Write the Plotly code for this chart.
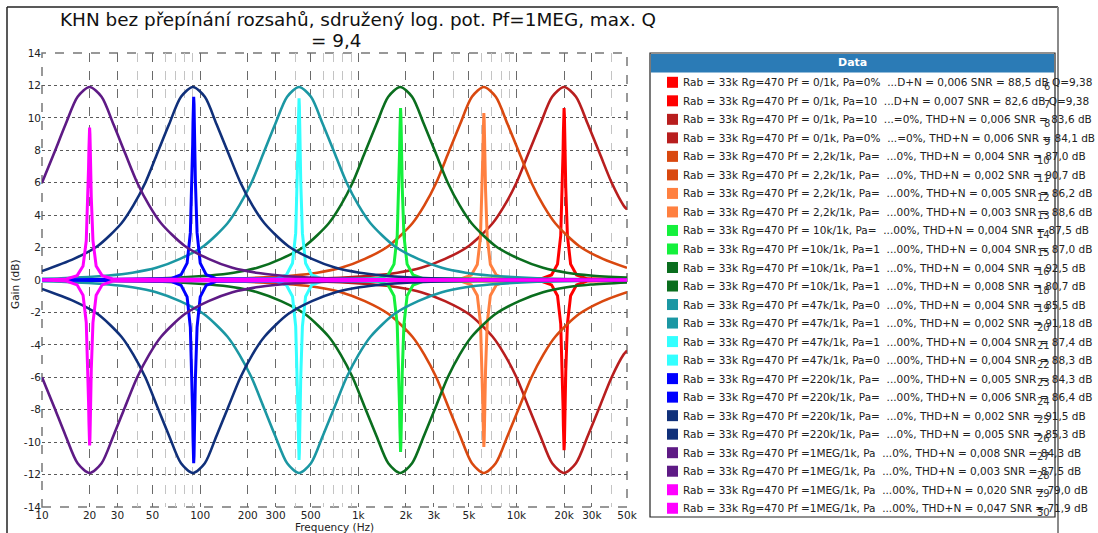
import plotly.graph_objects as go

# ---------------------------------------------------------------------------
# Measured responses: frequency (Hz) and gain (dB)
# ---------------------------------------------------------------------------

# Wide-band (low Q) curves
F_FIREBRICK = [10, 313, 625, 1250, 1768, 2500, 3536, 5000, 7071, 8409, 10000, 11892, 14142,
               16818, 20000, 23784, 28284, 33636, 40000, 47568, 50000]
G_FIREBRICK_UP = [0.0, 0.05, 0.11, 0.28, 0.45, 0.75, 1.3, 2.1, 3.5, 4.6, 6.0, 7.8, 9.6,
                  11.3, 11.9, 11.3, 9.6, 7.8, 6.0, 4.6, 4.35]
G_FIREBRICK_DN = [0.0, -0.05, -0.11, -0.28, -0.45, -0.75, -1.3, -2.1, -3.5, -4.6, -6.0, -7.8, -9.6,
                  -11.3, -11.9, -11.3, -9.6, -7.8, -6.0, -4.6, -4.35]

F_ORANGERED = [10, 97, 194, 389, 550, 778, 1100, 1555, 2199, 2615, 3110, 3698, 4398, 5230,
               6220, 7397, 8796, 10461, 12440, 14793, 17593, 24880, 35186, 50000]
G_ORANGERED_UP = [0.0, 0.05, 0.11, 0.28, 0.45, 0.75, 1.3, 2.1, 3.5, 4.6, 6.0, 7.8, 9.6, 11.3,
                  11.9, 11.3, 9.6, 7.8, 6.0, 4.6, 3.5, 2.1, 1.3, 0.75]
G_ORANGERED_DN = [0.0, -0.05, -0.11, -0.28, -0.45, -0.75, -1.3, -2.1, -3.5, -4.6, -6.0, -7.8, -9.6, -11.3,
                  -11.9, -11.3, -9.6, -7.8, -6.0, -4.6, -3.5, -2.1, -1.3, -0.75]

F_DKGREEN = [10, 57.5, 115, 163, 230, 325, 460, 651, 774, 920, 1094, 1301, 1547, 1840,
             2188, 2602, 3095, 3680, 4376, 5204, 7360, 10409, 14720, 20817, 29440, 50000]
G_DKGREEN_UP = [0.01, 0.11, 0.28, 0.45, 0.75, 1.3, 2.1, 3.5, 4.6, 6.0, 7.8, 9.6, 11.3, 11.9,
                11.3, 9.6, 7.8, 6.0, 4.6, 3.5, 2.1, 1.3, 0.75, 0.45, 0.28, 0.15]
G_DKGREEN_DN = [-0.01, -0.11, -0.28, -0.45, -0.75, -1.3, -2.1, -3.5, -4.6, -6.0, -7.8, -9.6, -11.3, -11.9,
                -11.3, -9.6, -7.8, -6.0, -4.6, -3.5, -2.1, -1.3, -0.75, -0.45, -0.28, -0.15]

F_TEAL = [10, 13.2, 26.4, 37.3, 52.8, 74.6, 105.5, 149, 177, 211, 251, 298, 355, 422,
          502, 597, 710, 844, 1004, 1194, 1688, 2387, 3376, 4774, 6752, 13504, 27008, 50000]
G_TEAL_UP = [0.08, 0.11, 0.28, 0.45, 0.75, 1.3, 2.1, 3.5, 4.6, 6.0, 7.8, 9.6, 11.3, 11.9,
             11.3, 9.6, 7.8, 6.0, 4.6, 3.5, 2.1, 1.3, 0.75, 0.45, 0.28, 0.11, 0.05, 0.03]
G_TEAL_DN = [-0.08, -0.11, -0.28, -0.45, -0.75, -1.3, -2.1, -3.5, -4.6, -6.0, -7.8, -9.6, -11.3, -11.9,
             -11.3, -9.6, -7.8, -6.0, -4.6, -3.5, -2.1, -1.3, -0.75, -0.45, -0.28, -0.11, -0.05, -0.03]

F_NAVY = [10, 15.9, 22.5, 31.8, 37.8, 45, 53.5, 63.6, 75.7, 90, 107, 127, 151, 180, 214, 255,
          360, 509, 720, 1018, 1440, 2036, 2880, 5760, 11520, 50000]
G_NAVY_UP = [0.55, 1.3, 2.1, 3.5, 4.6, 6.0, 7.8, 9.6, 11.3, 11.9, 11.3, 9.6, 7.8, 6.0, 4.6, 3.5,
             2.1, 1.3, 0.75, 0.45, 0.28, 0.17, 0.11, 0.05, 0.02, 0.0]
G_NAVY_DN = [-0.55, -1.3, -2.1, -3.5, -4.6, -6.0, -7.8, -9.6, -11.3, -11.9, -11.3, -9.6, -7.8, -6.0, -4.6, -3.5,
             -2.1, -1.3, -0.75, -0.45, -0.28, -0.17, -0.11, -0.05, -0.02, 0.0]

F_PURPLE = [10, 11.9, 14.1, 16.8, 20, 23.8, 28.3, 33.6, 40, 47.6, 56.6, 80, 113, 160, 226,
            320, 453, 640, 1280, 5000, 50000]
G_PURPLE_UP = [6.0, 7.8, 9.6, 11.3, 11.9, 11.3, 9.6, 7.8, 6.0, 4.6, 3.5, 2.1, 1.3, 0.75, 0.45,
               0.28, 0.17, 0.11, 0.05, 0.01, 0.0]
G_PURPLE_DN = [-6.0, -7.8, -9.6, -11.3, -11.9, -11.3, -9.6, -7.8, -6.0, -4.6, -3.5, -2.1, -1.3, -0.75, -0.45,
               -0.28, -0.17, -0.11, -0.05, -0.01, 0.0]

# Narrow (high Q) curves
F_RED = [10, 14286, 16667, 18182, 19048, 19512, 19704, 19802, 19900, 20000, 20100, 20200,
         20300, 20500, 21000, 22000, 24000, 28000, 50000]
G_RED_UP = [0.0, 0.07, 0.31, 0.98, 2.74, 5.71, 7.87, 9.10, 10.16, 10.6, 10.16, 9.10,
            7.87, 5.71, 2.74, 0.98, 0.31, 0.07, 0.03]
G_RED_DN = [0.0, -0.06, -0.30, -0.97, -2.71, -5.66, -7.79, -9.01, -10.06, -10.5, -10.06, -9.01,
            -7.79, -5.66, -2.71, -0.97, -0.30, -0.06, -0.03]

F_LTORANGE = [10, 4443, 5183, 5655, 5924, 6068, 6128, 6158, 6189, 6220, 6251, 6282, 6313,
              6376, 6531, 6842, 7464, 8708, 50000]
G_LTORANGE_UP = [0.0, 0.06, 0.30, 0.95, 2.66, 5.55, 7.64, 8.84, 9.87, 10.3, 9.87, 8.84, 7.64,
                 5.55, 2.66, 0.95, 0.30, 0.06, 0.0]
G_LTORANGE_DN = [0.0, -0.06, -0.30, -0.95, -2.66, -5.55, -7.64, -8.84, -9.87, -10.3, -9.87, -8.84, -7.64,
                 -5.55, -2.66, -0.95, -0.30, -0.06, 0.0]

F_GREEN = [10, 1321, 1542, 1682, 1762, 1805, 1823, 1832, 1841, 1850, 1859, 1869, 1878,
           1896, 1943, 2035, 2220, 2590, 50000]
G_GREEN_UP = [0.0, 0.07, 0.31, 0.98, 2.74, 5.71, 7.87, 9.10, 10.16, 10.6, 10.16, 9.10, 7.87,
              5.71, 2.74, 0.98, 0.31, 0.07, 0.0]
G_GREEN_DN = [0.0, -0.07, -0.31, -0.98, -2.74, -5.71, -7.87, -9.10, -10.16, -10.6, -10.16, -9.10, -7.87,
              -5.71, -2.74, -0.98, -0.31, -0.07, 0.0]

F_CYAN = [10, 301.4, 351.7, 383.6, 401.9, 411.7, 415.8, 417.8, 419.9, 422, 424.1, 426.2, 428.3,
          432.6, 443.1, 464.2, 506.4, 590.8, 50000]
G_CYAN_UP = [0.0, 0.07, 0.32, 1.03, 2.89, 6.04, 8.31, 9.61, 10.73, 11.2, 10.73, 9.61, 8.31,
             6.04, 2.89, 1.03, 0.32, 0.07, 0.0]
G_CYAN_DN = [0.0, -0.07, -0.32, -1.02, -2.86, -5.98, -8.24, -9.52, -10.63, -11.1, -10.63, -9.52, -8.24,
             -5.98, -2.86, -1.02, -0.32, -0.07, 0.0]

F_BLUE = [10, 65, 75.8, 82.7, 86.7, 88.8, 89.7, 90.1, 90.5, 91, 91.5, 91.9, 92.4, 93.3,
          95.6, 100.1, 109.2, 127.4, 50000]
G_BLUE_UP = [0.0, 0.07, 0.33, 1.04, 2.92, 6.09, 8.38, 9.70, 10.83, 11.3, 10.83, 9.70, 8.38, 6.09,
             2.92, 1.04, 0.33, 0.07, 0.0]
G_BLUE_DN = [0.0, -0.07, -0.33, -1.04, -2.92, -6.09, -8.38, -9.70, -10.83, -11.3, -10.83, -9.70, -8.38, -6.09,
             -2.92, -1.04, -0.33, -0.07, 0.0]

F_MAGENTA = [10, 14.29, 16.67, 18.18, 19.05, 19.51, 19.70, 19.80, 19.90, 20, 20.1, 20.2, 20.3,
             20.5, 21, 22, 24, 28, 50000]
G_MAGENTA_UP = [0.0, 0.06, 0.27, 0.86, 2.43, 5.07, 6.97, 8.07, 9.0, 9.4, 9.0, 8.07, 6.97,
                5.07, 2.43, 0.86, 0.27, 0.06, 0.0]
G_MAGENTA_DN = [0.0, -0.06, -0.30, -0.94, -2.63, -5.50, -7.57, -8.75, -9.77, -10.2, -9.77, -8.75, -7.57,
                -5.50, -2.63, -0.94, -0.30, -0.06, 0.0]

# Legend entries (in drawing order)
LABELS = [
    "Rab = 33k Rg=470 Pf = 0/1k, Pa=0%  ...D+N = 0,006 SNR = 88,5 dB Q=9,38",
    "Rab = 33k Rg=470 Pf = 0/1k, Pa=10  ...D+N = 0,007 SNR = 82,6 dB Q=9,38",
    "Rab = 33k Rg=470 Pf = 0/1k, Pa=10  ...=0%, THD+N = 0,006 SNR = 83,6 dB",
    "Rab = 33k Rg=470 Pf = 0/1k, Pa=0%  ...=0%, THD+N = 0,006 SNR = 84,1 dB",
    "Rab = 33k Rg=470 Pf = 2,2k/1k, Pa=  ...0%, THD+N = 0,004 SNR = 87,0 dB",
    "Rab = 33k Rg=470 Pf = 2,2k/1k, Pa=  ...0%, THD+N = 0,002 SNR = 90,7 dB",
    "Rab = 33k Rg=470 Pf = 2,2k/1k, Pa=  ...00%, THD+N = 0,005 SNR = 86,2 dB",
    "Rab = 33k Rg=470 Pf = 2,2k/1k, Pa=  ...00%, THD+N = 0,003 SNR = 88,6 dB",
    "Rab = 33k Rg=470 Pf = 10k/1k, Pa=  ...00%, THD+N = 0,004 SNR = 87,5 dB",
    "Rab = 33k Rg=470 Pf =10k/1k, Pa=1  ...00%, THD+N = 0,004 SNR = 87,0 dB",
    "Rab = 33k Rg=470 Pf =10k/1k, Pa=1  ...0%, THD+N = 0,004 SNR = 92,5 dB",
    "Rab = 33k Rg=470 Pf =10k/1k, Pa=1  ...0%, THD+N = 0,008 SNR = 80,7 dB",
    "Rab = 33k Rg=470 Pf =47k/1k, Pa=0  ...0%, THD+N = 0,004 SNR = 85,5 dB",
    "Rab = 33k Rg=470 Pf =47k/1k, Pa=1  ...0%, THD+N = 0,002 SNR = 91,18 dB",
    "Rab = 33k Rg=470 Pf =47k/1k, Pa=1  ...00%, THD+N = 0,004 SNR = 87,4 dB",
    "Rab = 33k Rg=470 Pf =47k/1k, Pa=0  ...00%, THD+N = 0,004 SNR = 88,3 dB",
    "Rab = 33k Rg=470 Pf =220k/1k, Pa=  ...00%, THD+N = 0,005 SNR = 84,3 dB",
    "Rab = 33k Rg=470 Pf =220k/1k, Pa=  ...00%, THD+N = 0,006 SNR = 86,4 dB",
    "Rab = 33k Rg=470 Pf =220k/1k, Pa=  ...0%, THD+N = 0,002 SNR = 91,5 dB",
    "Rab = 33k Rg=470 Pf =220k/1k, Pa=  ...0%, THD+N = 0,005 SNR = 85,3 dB",
    "Rab = 33k Rg=470 Pf =1MEG/1k, Pa  ...0%, THD+N = 0,008 SNR = 84,3 dB",
    "Rab = 33k Rg=470 Pf =1MEG/1k, Pa  ...0%, THD+N = 0,003 SNR = 87,5 dB",
    "Rab = 33k Rg=470 Pf =1MEG/1k, Pa  ...00%, THD+N = 0,020 SNR = 79,0 dB",
    "Rab = 33k Rg=470 Pf =1MEG/1k, Pa  ...00%, THD+N = 0,047 SNR = 71,9 dB",
]
ROW_NUMBERS = ["6", "7", "8", "9", "10", "11", "12", "13", "14", "15", "16", "18",
               "19", "20", "21", "22", "23", "24", "25", "26", "27", "28", "29", "30"]

C_RED, C_FIREBRICK, C_ORANGERED, C_LTORANGE = "#ff0000", "#b81e1e", "#d9480f", "#ff8040"
C_GREEN, C_DKGREEN, C_TEAL, C_CYAN = "#14f03c", "#0a6e1e", "#1b97a3", "#33ffff"
C_BLUE, C_NAVY, C_PURPLE, C_MAGENTA = "#0000ff", "#10307a", "#5e1a85", "#ff00ff"

NARROW, WIDE = 3.0, 2.6

SERIES = [
    (C_RED, F_RED, G_RED_UP, NARROW), (C_RED, F_RED, G_RED_DN, NARROW),
    (C_FIREBRICK, F_FIREBRICK, G_FIREBRICK_DN, WIDE), (C_FIREBRICK, F_FIREBRICK, G_FIREBRICK_UP, WIDE),
    (C_ORANGERED, F_ORANGERED, G_ORANGERED_UP, WIDE), (C_ORANGERED, F_ORANGERED, G_ORANGERED_DN, WIDE),
    (C_LTORANGE, F_LTORANGE, G_LTORANGE_UP, NARROW), (C_LTORANGE, F_LTORANGE, G_LTORANGE_DN, NARROW),
    (C_GREEN, F_GREEN, G_GREEN_UP, NARROW), (C_GREEN, F_GREEN, G_GREEN_DN, NARROW),
    (C_DKGREEN, F_DKGREEN, G_DKGREEN_UP, WIDE), (C_DKGREEN, F_DKGREEN, G_DKGREEN_DN, WIDE),
    (C_TEAL, F_TEAL, G_TEAL_UP, WIDE), (C_TEAL, F_TEAL, G_TEAL_DN, WIDE),
    (C_CYAN, F_CYAN, G_CYAN_DN, NARROW), (C_CYAN, F_CYAN, G_CYAN_UP, NARROW),
    (C_BLUE, F_BLUE, G_BLUE_UP, NARROW), (C_BLUE, F_BLUE, G_BLUE_DN, NARROW),
    (C_NAVY, F_NAVY, G_NAVY_UP, WIDE), (C_NAVY, F_NAVY, G_NAVY_DN, WIDE),
    (C_PURPLE, F_PURPLE, G_PURPLE_UP, WIDE), (C_PURPLE, F_PURPLE, G_PURPLE_DN, WIDE),
    (C_MAGENTA, F_MAGENTA, G_MAGENTA_UP, NARROW), (C_MAGENTA, F_MAGENTA, G_MAGENTA_DN, NARROW),
]

X_TICKS = [10, 20, 30, 50, 100, 200, 300, 500, 1000, 2000, 3000, 5000, 10000, 20000, 30000, 50000]
X_TICK_TEXT = ["10", "20", "30", "50", "100", "200", "300", "500", "1k", "2k", "3k", "5k",
               "10k", "20k", "30k", "50k"]
X_MINOR = [40, 60, 70, 80, 90, 400, 600, 700, 800, 900, 4000, 6000, 7000, 8000, 9000, 40000]
Y_TICKS = [-14, -12, -10, -8, -6, -4, -2, 0, 2, 4, 6, 8, 10, 12, 14]
Y_TICK_TEXT = ["-14", "-12", "-10", "-8", "-6", "-4", "-2", "0", "2", "4", "6", "8", "10", "12", "14"]

# title, wrapped over two lines
TITLE_LINE_1 = "KHN bez přepínání rozsahů, sdružený log. pot. Pf=1MEG, max. Q"
TITLE_LINE_2 = "= 9,4"

FONT = "DejaVu Sans"
W, H = 1098, 533
PLOT_L, PLOT_R, PLOT_T, PLOT_B = 42, 627, 53, 507


def px(x):
    """Page pixel column -> paper x."""
    return (x - PLOT_L) / (PLOT_R - PLOT_L)


def py(y):
    """Page pixel row -> paper y."""
    return (PLOT_B - y) / (PLOT_B - PLOT_T)


fig = go.Figure()
for color, freqs, gains, width in SERIES:
    fig.add_trace(go.Scatter(
        x=freqs, y=gains, mode="lines",
        line=dict(color=color, width=width,
                  shape="spline" if width == WIDE else "linear", smoothing=0.8),
        showlegend=False, hoverinfo="skip",
    ))

shapes = []
annotations = []

# dashed frame of the plotting area
shapes.append(dict(type="rect", xref="paper", yref="paper", x0=0, x1=1, y0=0, y1=1, layer="below",
                   line=dict(color="#777777", width=1.5, dash="dash")))

# outer frame of the figure
shapes.append(dict(type="line", xref="paper", yref="paper", x0=px(7), x1=px(7), y0=py(7), y1=py(533),
                   line=dict(color="#222222", width=1.5)))
shapes.append(dict(type="line", xref="paper", yref="paper", x0=px(7), x1=px(1058), y0=py(7), y1=py(7),
                   line=dict(color="#222222", width=1.5)))
shapes.append(dict(type="line", xref="paper", yref="paper", x0=px(1058), x1=px(1058), y0=py(7), y1=py(533),
                   line=dict(color="#8a8a8a", width=2)))

# data panel (legend)
LEG_L, LEG_R, LEG_T, LEG_B, HEAD_B = 650, 1055, 53, 517, 72.5
shapes.append(dict(type="rect", xref="paper", yref="paper", x0=px(LEG_L), x1=px(LEG_R),
                   y0=py(LEG_B), y1=py(LEG_T), fillcolor="white", line=dict(color="#222222", width=1.2)))
shapes.append(dict(type="rect", xref="paper", yref="paper", x0=px(LEG_L + 1), x1=px(LEG_R - 1),
                   y0=py(HEAD_B), y1=py(LEG_T + 1), fillcolor="#2b7bb6", line=dict(width=0)))
annotations.append(dict(text="<b>Data</b>", xref="paper", yref="paper", x=px((LEG_L + LEG_R) / 2),
                        y=py((LEG_T + HEAD_B) / 2), showarrow=False, xanchor="center", yanchor="middle",
                        font=dict(family=FONT, size=11, color="white")))

ROW0, ROW_STEP = 82.3, 18.52
for i, (series, label) in enumerate(zip(SERIES, LABELS)):
    yc = ROW0 + i * ROW_STEP
    shapes.append(dict(type="rect", xref="paper", yref="paper", x0=px(667), x1=px(678),
                       y0=py(yc + 5.5), y1=py(yc - 5.5), fillcolor=series[0], line=dict(width=0)))
    annotations.append(dict(text=label.replace("  ", "\u00a0 "), xref="paper", yref="paper",
                            x=px(681), y=py(yc), showarrow=False, xanchor="left", yanchor="middle",
                            font=dict(family=FONT, size=10.5, color="#222222")))
    annotations.append(dict(text=ROW_NUMBERS[i], xref="paper", yref="paper",
                            x=px(1052), y=py(yc + 4), showarrow=False, xanchor="right", yanchor="middle",
                            font=dict(family=FONT, size=10, color="#333333")))

# title lines
annotations.append(dict(text=TITLE_LINE_1, xref="paper", yref="paper", x=px(358), y=py(19),
                        showarrow=False, xanchor="center", yanchor="middle",
                        font=dict(family=FONT, size=18.4, color="#111111")))
annotations.append(dict(text=TITLE_LINE_2, xref="paper", yref="paper", x=px(336), y=py(40),
                        showarrow=False, xanchor="center", yanchor="middle",
                        font=dict(family=FONT, size=18.4, color="#111111")))

# axis titles
annotations.append(dict(text="Frequency (Hz)", xref="paper", yref="paper", x=0.5, y=py(527),
                        showarrow=False, xanchor="center", yanchor="middle",
                        font=dict(family=FONT, size=10.5, color="#222222")))
annotations.append(dict(text="Gain (dB)", xref="paper", yref="paper", x=px(15), y=py(284),
                        showarrow=False, xanchor="center", yanchor="middle", textangle=-90,
                        font=dict(family=FONT, size=10.5, color="#222222")))

fig.update_layout(
    width=W, height=H, autosize=False,
    margin=dict(l=PLOT_L, r=W - PLOT_R, t=PLOT_T, b=H - PLOT_B, pad=0),
    paper_bgcolor="white", plot_bgcolor="white",
    shapes=shapes, annotations=annotations,
    showlegend=False,
    xaxis=dict(type="log", range=[1, 4.69897], tickmode="array", tickvals=X_TICKS, ticktext=X_TICK_TEXT,
               showgrid=True, gridcolor="#6a6a6a", griddash="dash", gridwidth=1,
               minor=dict(tickmode="array", tickvals=X_MINOR, showgrid=True, gridcolor="#c4c4c4",
                          griddash="dash", gridwidth=1, ticks=""),
               ticks="", showline=False, zeroline=False, automargin=False,
               tickfont=dict(family=FONT, size=10.5, color="#222222")),
    yaxis=dict(range=[-14, 14], tickmode="array", tickvals=Y_TICKS, ticktext=Y_TICK_TEXT,
               showgrid=True, gridcolor="#5a5a5a", griddash="dot", gridwidth=1,
               ticks="", showline=False, zeroline=False, automargin=False,
               tickfont=dict(family=FONT, size=10.5, color="#222222")),
)

fig.write_html("out.html", config={"displayModeBar": False})
